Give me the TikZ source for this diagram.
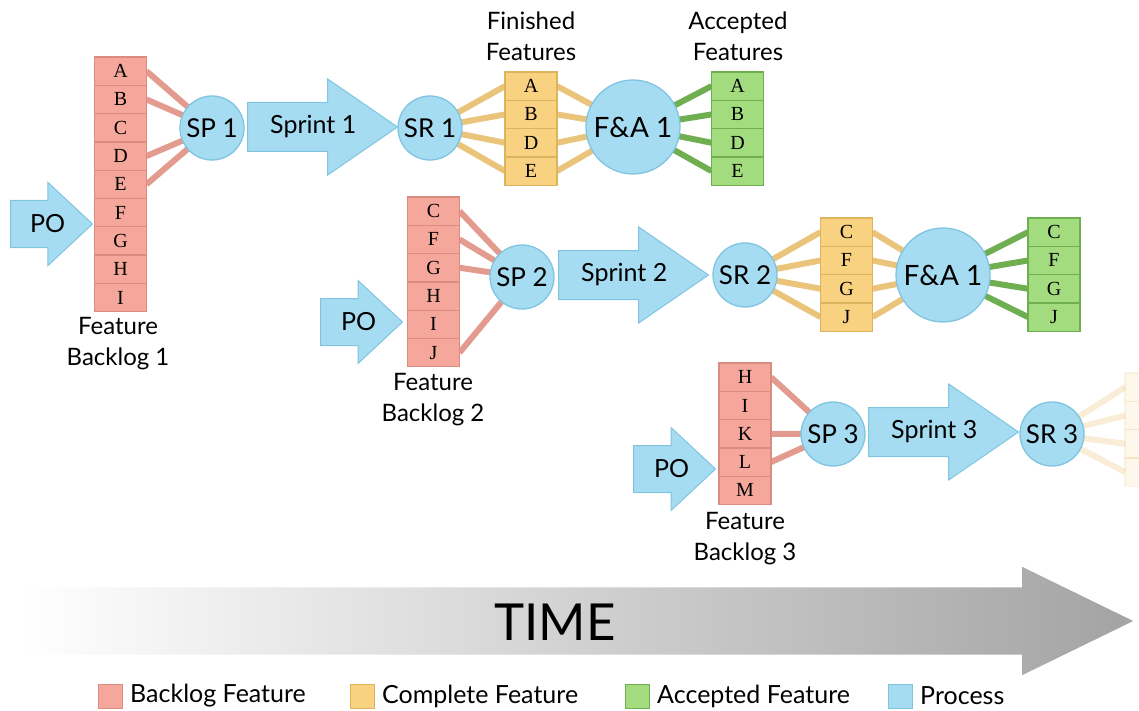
\documentclass[tikz,border=0pt]{standalone}
\usepackage{fontspec}
\setmainfont{Lato}
\newfontfamily\cellfont{Liberation Serif}
\usetikzlibrary{shapes.arrows, positioning, backgrounds}

\definecolor{blfill}{HTML}{F4A79A}
\definecolor{bldraw}{HTML}{DA8C80}
\definecolor{blline}{HTML}{E39B8F}
\definecolor{cpfill}{HTML}{F8D181}
\definecolor{cpdraw}{HTML}{DDB45E}
\definecolor{cpline}{HTML}{EBC47C}
\definecolor{acfill}{HTML}{A3DC7F}
\definecolor{acdraw}{HTML}{6FAF52}
\definecolor{acline}{HTML}{70AF51}
\definecolor{prfill}{HTML}{A6DCF2}
\definecolor{prdraw}{HTML}{80C4E0}

\tikzset{
  cell/.style={rectangle, draw, line width=1.3pt, minimum width=52pt, minimum height=28.3pt,
    inner sep=0pt, outer sep=0pt, font=\cellfont\fontsize{20}{20}\selectfont},
  backlog/.style={cell, fill=blfill, draw=bldraw},
  complete/.style={cell, fill=cpfill, draw=cpdraw},
  accepted/.style={cell, fill=acfill, draw=acdraw},
  meeting/.style={circle, draw=prdraw, fill=prfill, line width=1.3pt, minimum size=64pt,
    inner sep=0pt, font=\fontsize{26}{26}\selectfont},
  review/.style={meeting, minimum size=94pt, font=\fontsize{28}{28}\selectfont},
  sprint/.style={single arrow, draw=prdraw, fill=prfill, line width=1pt, shape border rotate=0,
    anchor=tail, inner sep=0pt, text height=24pt, text depth=24pt, minimum height=150pt,
    single arrow head extend=23.5pt, single arrow tip angle=69},
  owner/.style={sprint, text height=23pt, text depth=23pt, minimum height=82pt,
    single arrow head extend=18pt, single arrow tip angle=86},
  arrowtext/.style={inner sep=0pt, font=\fontsize{25}{25}\selectfont},
  timearrow/.style={single arrow, shape border rotate=0, anchor=tail, inner sep=0pt,
    text height=33.5pt, text depth=33.5pt, minimum height=1113pt, single arrow head extend=20.5pt,
    single arrow tip angle=52, left color=white, right color=black!36},
  caption/.style={align=center, inner sep=0pt, font=\fontsize{24}{31}\selectfont},
  swatch/.style={rectangle, line width=1pt, minimum size=24pt, inner sep=0pt, anchor=west},
  tie/.style={line width=6pt},
}

\begin{document}
\begin{tikzpicture}[x=1pt, y=-1pt]
  \useasboundingbox (0,0) rectangle (1139,711);
  \clip (0,0) rectangle (1139,711);

  % time axis
  \node[timearrow] (time) at (20,621) {};
  \node[font=\fontsize{51}{51}\selectfont] (timetext) at (555,622) {TIME};

  % sprint 1
  \node[owner] (po1) at (10,224) {};
  \node[arrowtext, right=20pt of po1.tail] (po1text) {PO};
  \foreach \l [count=\i] in {A,B,C,D,E,F,G,H,I}
    \node[backlog] (bl1-\l) at (120.5, 42.85+28.3*\i) {\l};
  \node[caption] (cap1) at (118,344) {Feature\\Backlog 1};
  \node[meeting] (sp1) at (212,128) {SP 1};
  \node[sprint] (run1) at (247,127) {};
  \node[arrowtext, right=23pt of run1.tail] (run1text) {Sprint 1};
  \node[meeting] (sr1) at (430,128) {SR 1};
  \foreach \l [count=\i] in {A,B,D,E}
    \node[complete] (cp1-\l) at (531, 57.85+28.3*\i) {\l};
  \node[review] (fa1) at (633,127) {F\&A 1};
  \foreach \l [count=\i] in {A,B,D,E}
    \node[accepted] (ac1-\l) at (737.5, 57.85+28.3*\i) {\l};
  \node[caption] (fin1) at (531,36) {Finished\\Features};
  \node[caption] (acc1) at (738,36) {Accepted\\Features};

  % sprint 2
  \node[owner] (po2) at (320,322) {};
  \node[arrowtext, right=21pt of po2.tail] (po2text) {PO};
  \foreach \l [count=\i] in {C,F,G,H,I,J}
    \node[backlog] (bl2-\l) at (433.5, 182.85+28.3*\i) {\l};
  \node[caption] (cap2) at (433,400) {Feature\\Backlog 2};
  \node[meeting] (sp2) at (522,277) {SP 2};
  \node[sprint] (run2) at (558,275) {};
  \node[arrowtext, right=23pt of run2.tail] (run2text) {Sprint 2};
  \node[meeting] (sr2) at (745,275) {SR 2};
  \foreach \l [count=\i] in {C,F,G,J}
    \node[complete] (cp2-\l) at (846.5, 203.85+28.3*\i) {\l};
  \node[review] (fa2) at (943,275) {F\&A 1};
  \foreach \l [count=\i] in {C,F,G,J}
    \node[accepted] (ac2-\l) at (1054, 203.85+28.3*\i) {\l};

  % sprint 3
  \node[owner] (po3) at (633,469) {};
  \node[arrowtext, right=21pt of po3.tail] (po3text) {PO};
  \foreach \l [count=\i] in {H,I,K,L,M}
    \node[backlog] (bl3-\l) at (745, 348.85+28.3*\i) {\l};
  \node[caption] (cap3) at (745,539) {Feature\\Backlog 3};
  \node[meeting] (sp3) at (833,434) {SP 3};
  \node[sprint] (run3) at (868,432) {};
  \node[arrowtext, right=23pt of run3.tail] (run3text) {Sprint 3};
  \node[meeting] (sr3) at (1052,434) {SR 3};
  \foreach \i in {1,...,4}
    \node[complete, opacity=0.15] (cp3-\i) at (1151, 358.85+28.3*\i) {};

  % connectors
  \begin{scope}[on background layer]
    \foreach \l in {A,B,D,E} {
      \draw[tie, blline] (bl1-\l.east) -- (sp1.center);
      \draw[tie, cpline] (sr1.center) -- (cp1-\l.west);
      \draw[tie, cpline] (cp1-\l.east) -- (fa1.center);
      \draw[tie, acline] (fa1.center) -- (ac1-\l.west);
    }
    \foreach \l in {C,F,G,J} {
      \draw[tie, blline] (bl2-\l.east) -- (sp2.center);
      \draw[tie, cpline] (sr2.center) -- (cp2-\l.west);
      \draw[tie, cpline] (cp2-\l.east) -- (fa2.center);
      \draw[tie, acline] (fa2.center) -- (ac2-\l.west);
    }
    \foreach \l in {H,K,L}
      \draw[tie, blline] (bl3-\l.east) -- (sp3.center);
    \foreach \i in {1,...,4}
      \draw[tie, cpline, opacity=0.3] (sr3.center) -- (cp3-\i.west);
  \end{scope}

  % legend
  \foreach \c/\x/\t [count=\i] in {bl/98/Backlog Feature, cp/350/Complete Feature,
      ac/625/Accepted Feature, pr/888/Process} {
    \node[swatch, fill=\c fill, draw=\c draw] (key\i) at (\x,696) {};
    \node[caption, font=\fontsize{25}{25}\selectfont, right=7pt of key\i] (keytext\i) {\t};
  }
\end{tikzpicture}
\end{document}
